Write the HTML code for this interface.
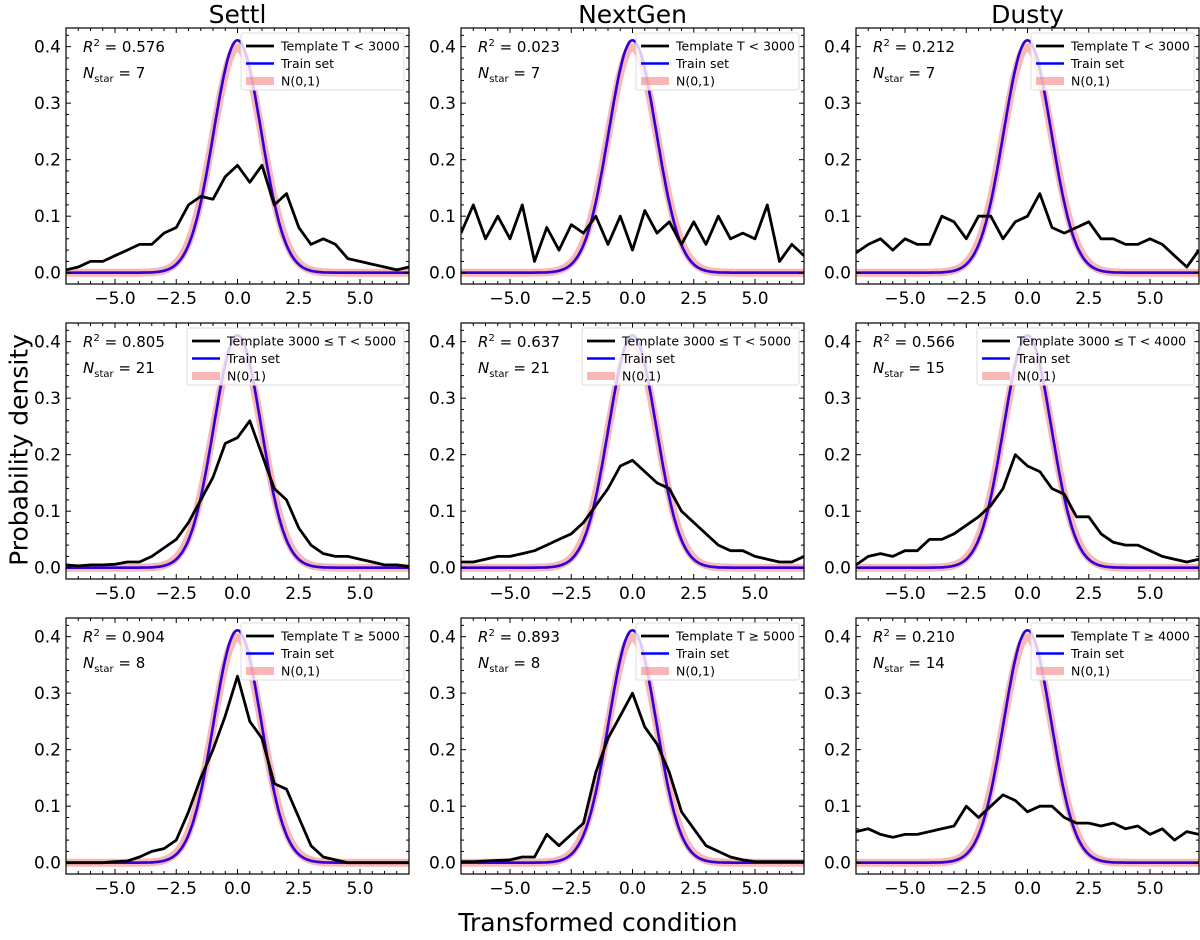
<!DOCTYPE html>
<html><head><meta charset="utf-8">
<style>
html,body{margin:0;padding:0;background:#fff;}
svg{display:block;font-family:"DejaVu Sans","Liberation Sans",sans-serif;}
</style></head>
<body>
<svg id="fig" width="1200" height="940" viewBox="0 0 1200 940" xmlns="http://www.w3.org/2000/svg">
<text x="0" y="0" transform="translate(19,450) rotate(-90)" text-anchor="middle" dominant-baseline="central" font-size="25">Probability density</text>
<text x="598" y="931" text-anchor="middle" font-size="25">Transformed condition</text>
</svg>
<script>
// shared x grid (bin centers)
const xGrid = [-7,-6.5,-6,-5.5,-5,-4.5,-4,-3.5,-3,-2.5,-2,-1.5,-1,-0.5,0,0.5,1,1.5,2,2.5,3,3.5,4,4.5,5,5.5,6,6.5,7];
const xTicks = [-5,-2.5,0,2.5,5];
const xTickLabels = ["\u22125.0","\u22122.5","0.0","2.5","5.0"];
const yTicks = [0,0.1,0.2,0.3,0.4];
const yTickLabels = ["0.0","0.1","0.2","0.3","0.4"];
const columnTitles = ["Settl","NextGen","Dusty"];
const r2Values = ["0.576","0.023","0.212","0.805","0.637","0.566","0.904","0.893","0.210"];
const nStars = ["7","7","7","21","21","15","8","8","14"];
const legendLabels = ["Template T < 3000","Template T < 3000","Template T < 3000",
  "Template 3000 \u2264 T < 5000","Template 3000 \u2264 T < 5000","Template 3000 \u2264 T < 4000",
  "Template T \u2265 5000","Template T \u2265 5000","Template T \u2265 4000"];
const settlCool = [0.005,0.01,0.02,0.02,0.03,0.04,0.05,0.05,0.07,0.08,0.12,0.135,0.13,0.17,0.19,0.16,0.19,0.12,0.14,0.08,0.05,0.06,0.05,0.025,0.02,0.015,0.01,0.005,0.01];
const nextgenCool = [0.07,0.12,0.06,0.1,0.06,0.12,0.02,0.08,0.04,0.085,0.07,0.1,0.05,0.1,0.04,0.11,0.07,0.09,0.05,0.09,0.05,0.1,0.06,0.07,0.06,0.12,0.02,0.05,0.03];
const dustyCool = [0.035,0.05,0.06,0.04,0.06,0.05,0.05,0.1,0.09,0.06,0.1,0.1,0.06,0.09,0.1,0.14,0.08,0.07,0.08,0.09,0.06,0.06,0.05,0.05,0.06,0.05,0.03,0.01,0.04];
const settlMid = [0.005,0.003,0.005,0.005,0.006,0.01,0.01,0.02,0.035,0.05,0.08,0.12,0.16,0.22,0.23,0.26,0.2,0.14,0.12,0.07,0.04,0.025,0.02,0.02,0.015,0.01,0.005,0.005,0.002];
const nextgenMid = [0.01,0.01,0.015,0.02,0.02,0.025,0.03,0.04,0.05,0.06,0.08,0.11,0.14,0.18,0.19,0.17,0.15,0.14,0.1,0.08,0.06,0.04,0.03,0.03,0.02,0.015,0.01,0.01,0.02];
const dustyMid = [0.005,0.02,0.025,0.02,0.03,0.03,0.05,0.05,0.06,0.075,0.09,0.11,0.14,0.2,0.18,0.17,0.14,0.13,0.09,0.09,0.06,0.045,0.04,0.04,0.03,0.02,0.015,0.01,0.015];
const settlHot = [0,0,0,0,0.002,0.003,0.01,0.02,0.025,0.04,0.09,0.15,0.2,0.26,0.33,0.25,0.22,0.14,0.13,0.08,0.03,0.01,0.005,0,0,0,0,0,0];
const nextgenHot = [0.002,0.002,0.003,0.004,0.005,0.01,0.01,0.05,0.03,0.05,0.07,0.16,0.22,0.26,0.3,0.24,0.21,0.16,0.09,0.06,0.03,0.02,0.01,0.005,0.002,0.002,0.002,0.002,0.002];
const dustyHot = [0.055,0.06,0.05,0.045,0.05,0.05,0.055,0.06,0.065,0.1,0.08,0.1,0.12,0.11,0.09,0.1,0.1,0.08,0.07,0.07,0.065,0.07,0.06,0.065,0.05,0.06,0.04,0.055,0.05];
const templateSeries = [settlCool,nextgenCool,dustyCool,settlMid,nextgenMid,dustyMid,settlHot,nextgenHot,dustyHot];
const trainSigma = 0.97;

const NS="http://www.w3.org/2000/svg";
const svg=document.getElementById('fig');
const colLeft=[66,461,856], pw=343, rowTop=[28,323,618], ph=256;
const XMIN=-7,XMAX=7,YMIN=-0.02,YMAX=0.433;
function mk(tag,attrs,parent){const e=document.createElementNS(NS,tag);for(const k in attrs)e.setAttribute(k,attrs[k]);(parent||svg).appendChild(e);return e;}

columnTitles.forEach((t,c)=>{
  const e=mk('text',{x:colLeft[c]+pw/2,y:23,'text-anchor':'middle','font-size':25});
  
  
  e.textContent=t;
});

for(let i=0;i<9;i++){
  const r=Math.floor(i/3),c=i%3;
  const L=colLeft[c],T=rowTop[r];
  const sx=v=>L+(v-XMIN)/(XMAX-XMIN)*pw;
  const sy=v=>T+ph-(v-YMIN)/(YMAX-YMIN)*ph;
  const g=mk('g',{});
  
  
  const defs=mk('clipPath',{id:'cp'+i},g);
  mk('rect',{x:L,y:T,width:pw,height:ph},defs);
  const plot=mk('g',{'clip-path':'url(#cp'+i+')'},g);
  let dN='',dB='';
  for(let k=0;k<=280;k++){const x=XMIN+k*(XMAX-XMIN)/280;
    const yn=Math.exp(-x*x/2)/Math.sqrt(2*Math.PI);
    const yb=Math.exp(-x*x/(2*trainSigma*trainSigma))/(trainSigma*Math.sqrt(2*Math.PI));
    dN+=(k?'L':'M')+sx(x).toFixed(1)+','+sy(yn).toFixed(1);
    dB+=(k?'L':'M')+sx(x).toFixed(1)+','+sy(yb).toFixed(1);}
  const pn=mk('path',{d:dN,fill:'none',stroke:'#f47c7c','stroke-opacity':0.55,'stroke-width':8,'stroke-linejoin':'round'},plot);
  
  
  const pt=mk('path',{d:dB,fill:'none',stroke:'#0000ff','stroke-width':2.6},plot);
  
  
  const pb=mk('path',{d:dB,fill:'none',stroke:'#c00060','stroke-opacity':0.25,'stroke-width':2.6},plot);
  
  
  const ser=templateSeries[i];
  let dT='';ser.forEach((v,k)=>{dT+=(k?'L':'M')+sx(xGrid[k]).toFixed(1)+','+sy(v).toFixed(1);});
  const pk=mk('path',{d:dT,fill:'none',stroke:'#000','stroke-width':2.8,'stroke-linejoin':'round'},plot);
  
  
  mk('rect',{x:L,y:T,width:pw,height:ph,fill:'none',stroke:'#000','stroke-width':1.2},g);
  for(let m=-7;m<=7.001;m+=0.5){const X=sx(m);const major=xTicks.some(t=>Math.abs(t-m)<1e-6);const len=major?5:3;
    mk('line',{x1:X,y1:T+ph,x2:X,y2:T+ph-len,stroke:'#000','stroke-width':1},g);
    mk('line',{x1:X,y1:T,x2:X,y2:T+len,stroke:'#000','stroke-width':1},g);}
  for(let m=-0.02;m<=0.4301;m+=0.02){const Y=sy(m);const major=Math.abs(Math.round(m*10)/10-m)<1e-6;const len=major?5:3;
    mk('line',{x1:L,y1:Y,x2:L+len,y2:Y,stroke:'#000','stroke-width':1},g);
    mk('line',{x1:L+pw,y1:Y,x2:L+pw-len,y2:Y,stroke:'#000','stroke-width':1},g);}
  xTicks.forEach((t,k)=>{const e=mk('text',{x:sx(t),y:T+ph+20,'text-anchor':'middle','font-size':17},g);
    
    
    e.textContent=xTickLabels[k];});
  yTicks.forEach((t,k)=>{const e=mk('text',{x:L-5,y:sy(t)+6,'text-anchor':'end','font-size':17},g);
    
    
    e.textContent=yTickLabels[k];});
  const a1=mk('text',{x:L+17,y:T+24,'font-size':15},g);
  
  
  a1.innerHTML='<tspan font-style="italic">R</tspan><tspan dy="-6" font-size="10">2</tspan><tspan dy="6"> = '+r2Values[i]+'</tspan>';
  const a2=mk('text',{x:L+17,y:T+50,'font-size':15},g);
  
  
  a2.innerHTML='<tspan font-style="italic">N</tspan><tspan dy="4" font-size="10">star</tspan><tspan dy="-4"> = '+nStars[i]+'</tspan>';
  const wide=r===1;const lw=wide?217:163;const lx=L+pw-lw-5,ly=T+5;
  const lg=mk('g',{},g);
  
  
  mk('rect',{x:lx,y:ly,width:lw,height:57,fill:'#fff','fill-opacity':0.8,stroke:'#ddd','stroke-width':1,rx:2},lg);
  const rows=[[legendLabels[i],'#000',2.8,1],['Train set','#0000ff',2.6,1],['N(0,1)','#f47c7c',8,0.55]];
  rows.forEach((rw,k)=>{const yy=ly+13+k*17.5;
    mk('line',{x1:lx+5,y1:yy,x2:lx+33,y2:yy,stroke:rw[1],'stroke-width':rw[2],'stroke-opacity':rw[3]},lg);
    const e=mk('text',{x:lx+40,y:yy+4.5,'font-size':12.5},lg);
    
    
    e.textContent=rw[0];});
}
</script>
</body></html>
